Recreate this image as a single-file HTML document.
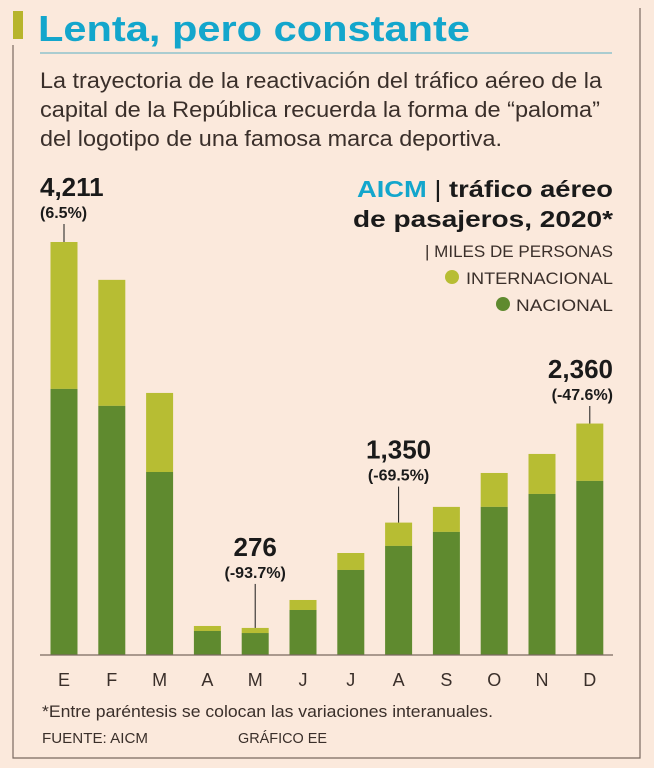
<!DOCTYPE html>
<html><head><meta charset="utf-8"><style>
html,body{margin:0;padding:0;background:#fbe9dc;}
svg{display:block;font-family:"Liberation Sans",sans-serif;}
</style></head><body>
<svg id="c" width="654" height="768" viewBox="0 0 654 768" xmlns="http://www.w3.org/2000/svg">
<rect x="0" y="0" width="654" height="768" fill="#fbe9dc"/>
<path d="M13 45 V758 H640 V8" fill="none" stroke="#7a6a60" stroke-width="1.2"/>
<rect x="13" y="11" width="10" height="28" fill="#b7b52c"/>
<text x="38" y="41" font-size="36" font-weight="bold" fill="#13a6cc" textLength="432" lengthAdjust="spacingAndGlyphs">Lenta, pero constante</text>
<line x1="40" y1="53" x2="612" y2="53" stroke="#5ab0c4" stroke-width="1"/>
<g font-size="22" fill="#3a2f2a" font-family="'Liberation Sans Narrow','Liberation Sans',sans-serif">
<text x="40" y="88" textLength="562" lengthAdjust="spacingAndGlyphs">La trayectoria de la reactivación del tráfico aéreo de la</text>
<text x="40" y="117" textLength="560" lengthAdjust="spacingAndGlyphs">capital de la República recuerda la forma de “paloma”</text>
<text x="40" y="146" textLength="462" lengthAdjust="spacingAndGlyphs">del logotipo de una famosa marca deportiva.</text>
</g>
<g>
<text x="613" y="197" text-anchor="end" font-size="23" font-weight="bold" fill="#1a1a1a" textLength="256" lengthAdjust="spacingAndGlyphs"><tspan fill="#13a6cc">AICM</tspan><tspan font-weight="normal"> | </tspan>tráfico aéreo</text>
<text x="613" y="227" text-anchor="end" font-size="23" font-weight="bold" fill="#1a1a1a" textLength="260" lengthAdjust="spacingAndGlyphs">de pasajeros, 2020*</text>
<text x="613" y="257" text-anchor="end" font-size="17" fill="#3a2f2a" font-family="'Liberation Sans Narrow','Liberation Sans',sans-serif" textLength="188" lengthAdjust="spacingAndGlyphs">| MILES DE PERSONAS</text>
<circle cx="452" cy="277" r="7" fill="#b7bd33"/>
<text x="613" y="284" text-anchor="end" font-size="17" fill="#3a2f2a" font-family="'Liberation Sans Narrow','Liberation Sans',sans-serif" textLength="147" lengthAdjust="spacingAndGlyphs">INTERNACIONAL</text>
<circle cx="503" cy="304" r="7" fill="#5f8a2f"/>
<text x="613" y="311" text-anchor="end" font-size="17" fill="#3a2f2a" font-family="'Liberation Sans Narrow','Liberation Sans',sans-serif" textLength="97" lengthAdjust="spacingAndGlyphs">NACIONAL</text>
</g>
<g id="bars"></g>
<line x1="40" y1="655" x2="613" y2="655" stroke="#7a6a60" stroke-width="1.2"/>
<g id="labels"></g>
<g id="ann"></g>
<text x="42" y="717" font-size="17" fill="#3a2f2a" font-family="'Liberation Sans Narrow','Liberation Sans',sans-serif" textLength="451" lengthAdjust="spacingAndGlyphs">*Entre paréntesis se colocan las variaciones interanuales.</text>
<text x="42" y="743" font-size="15" fill="#3a2f2a" font-family="'Liberation Sans Narrow','Liberation Sans',sans-serif" textLength="106" lengthAdjust="spacingAndGlyphs">FUENTE: AICM</text>
<text x="238" y="743" font-size="15" fill="#3a2f2a" font-family="'Liberation Sans Narrow','Liberation Sans',sans-serif" textLength="89" lengthAdjust="spacingAndGlyphs">GRÁFICO EE</text>
</svg>
<script>
const months = ["E","F","M","A","M","J","J","A","S","O","N","D"];
const totals = [4211,3825,2672,296,276,561,1040,1350,1510,1856,2050,2360];
const nacional = [2713,2540,1866,245,224,459,867,1112,1255,1510,1642,1775];
const annIndex = [0,4,7,11];
const annValues = ["4,211","276","1,350","2,360"];
const annPct = ["(6.5%)","(-93.7%)","(-69.5%)","(-47.6%)"];

const NS="http://www.w3.org/2000/svg";
const baseY=655, plotH=413, maxV=4211;
const x0=64, step=47.8, bw=27;
const xs=i=>x0+i*step;
const ys=v=>baseY-v/maxV*plotH;
function mk(tag,attrs,parent){const e=document.createElementNS(NS,tag);for(const k in attrs)e.setAttribute(k,attrs[k]);parent.appendChild(e);return e;}
const bars=document.getElementById('bars'), labels=document.getElementById('labels'), ann=document.getElementById('ann');
months.forEach((m,i)=>{
  const intl=mk('rect',{x:xs(i)-bw/2,y:ys(totals[i]),width:bw,height:ys(nacional[i])-ys(totals[i]),fill:'#b7bd33'},bars);
  
  
  const nat=mk('rect',{x:xs(i)-bw/2,y:ys(nacional[i]),width:bw,height:baseY-ys(nacional[i]),fill:'#5f8a2f'},bars);
  
  
  const t=mk('text',{x:xs(i),y:686,'text-anchor':'middle','font-size':18,fill:'#3a2f2a','font-family':"'Liberation Sans Narrow','Liberation Sans',sans-serif"},labels);
  t.textContent=m;
  
  
});
annIndex.forEach((idx,k)=>{
  const x=xs(idx), top=ys(totals[idx]);
  let vy, anchor, tx;
  if(k===0){anchor='start';tx=40;vy=196;}
  else if(k===3){anchor='end';tx=613;vy=378;}
  else {anchor='middle';tx=x;vy=top-(k===1?72:64);}
  const v=mk('text',{x:tx,y:vy,'text-anchor':anchor,'font-size':26,'font-weight':'bold',fill:'#1a1a1a'},ann);
  v.textContent=annValues[k];
  
  
  const p=mk('text',{x:tx,y:vy+22,'text-anchor':anchor,'font-size':16,'font-weight':'bold',fill:'#1a1a1a'},ann);
  p.textContent=annPct[k];
  
  
  const l=mk('line',{x1:x,y1:vy+28,x2:x,y2:top,stroke:'#1a1a1a','stroke-width':1},ann);
  
  
});
</script>
</body></html>
